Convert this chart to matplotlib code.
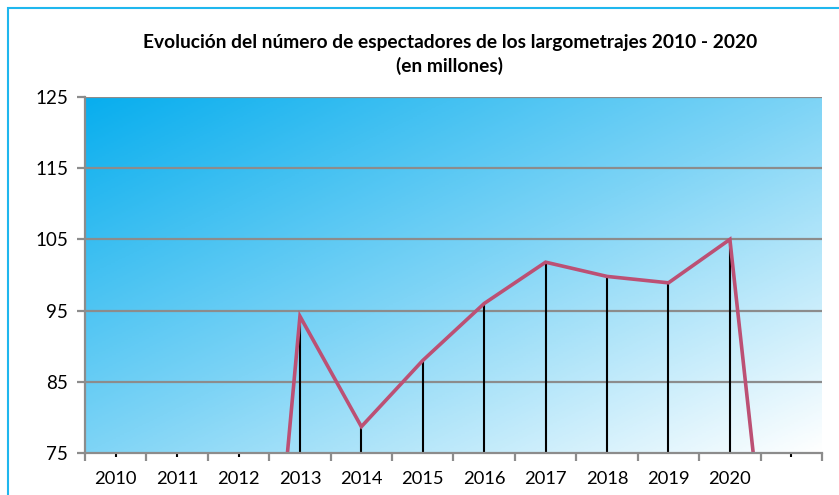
import numpy as np
import matplotlib
matplotlib.use("Agg")
import matplotlib.pyplot as plt
from matplotlib.colors import LinearSegmentedColormap
from matplotlib.patches import Rectangle

# ---- data ----
years = ["2010", "2011", "2012", "2013", "2014", "2015", "2016", "2017", "2018", "2019", "2020", ""]
spectators = [0, 0, 0, 94.2, 78.7, 88.0, 96.0, 101.8, 99.8, 98.9, 105.0, 26.0]
yticks = [75, 85, 95, 105, 115, 125]
title = "Evolución del número de espectadores de los largometrajes 2010 - 2020\n(en millones)"

plt.rcParams['font.family'] = ['Lato', 'DejaVu Sans']

W, H = 839, 495
fig = plt.figure(figsize=(W / 100, H / 100), dpi=100)
fig.patch.set_facecolor("white")

# outer light-blue frame
fig.patches.append(Rectangle((8 / W, -0.1), 1.2, 1 - 8 / H + 0.1, transform=fig.transFigure,
                             fill=False, edgecolor="#1FB7EE", linewidth=1.5))

ax = fig.add_axes([85 / W, 1 - 453 / H, (822 - 85) / W, (453 - 97) / H])

n = len(years)
x = np.arange(n)
ax.set_xlim(-0.5, n - 0.5)
ax.set_ylim(yticks[0], yticks[-1])

# diagonal gradient background (dark top-left -> white bottom-right)
cmap = LinearSegmentedColormap.from_list("bg", ["#08AEEE", "#7ED4F6", "#FFFFFF"])
gx, gy = np.meshgrid(np.linspace(0, 1, 400), np.linspace(0, 1, 200))
grad = (gx + gy) / 2.0
ax.imshow(grad, cmap=cmap, extent=[0, 1, 0, 1], origin="upper", transform=ax.transAxes,
          aspect="auto", zorder=0, interpolation="bilinear")

# gridlines
for yv in yticks[1:]:
    ax.axhline(yv, color="#8C8C8C", linewidth=1.6, zorder=1)

# drop lines
ymin = yticks[0]
for xi, v in zip(x, spectators):
    if v > ymin:
        ax.vlines(xi, ymin, v, color="black", linewidth=1.5, zorder=2)
    else:
        ax.vlines(xi, ymin - 0.5, ymin, color="black", linewidth=1.5, zorder=2, clip_on=False)

# main line
ax.plot(x, spectators, color="#BC5074", linewidth=2.6, zorder=3, solid_joinstyle="miter")

# axes styling
for s in ["top", "right"]:
    ax.spines[s].set_visible(False)
for s in ["left", "bottom"]:
    ax.spines[s].set_color("#8C8C8C")
    ax.spines[s].set_linewidth(1.6)
    ax.spines[s].set_zorder(4)

ax.set_yticks(yticks)
ax.set_yticklabels([str(v) for v in yticks], fontsize=13.5)
ax.tick_params(axis="y", length=6, width=1.6, color="#8C8C8C", pad=6)

ax.set_xticks(x)
ax.set_xticklabels(years, fontsize=13.2)
ax.tick_params(axis="x", which="major", length=0, pad=13)
ax.set_xticks(np.arange(-0.5, n, 1.0), minor=True)
ax.tick_params(axis="x", which="minor", length=6, width=1.6, color="#8C8C8C")

fig.text(450 / W, 1 - 54.5 / H, title, ha="center", va="center", fontsize=13.8,
         fontweight="bold", linespacing=1.45)

fig.savefig("out.png", dpi=100, facecolor="white")
